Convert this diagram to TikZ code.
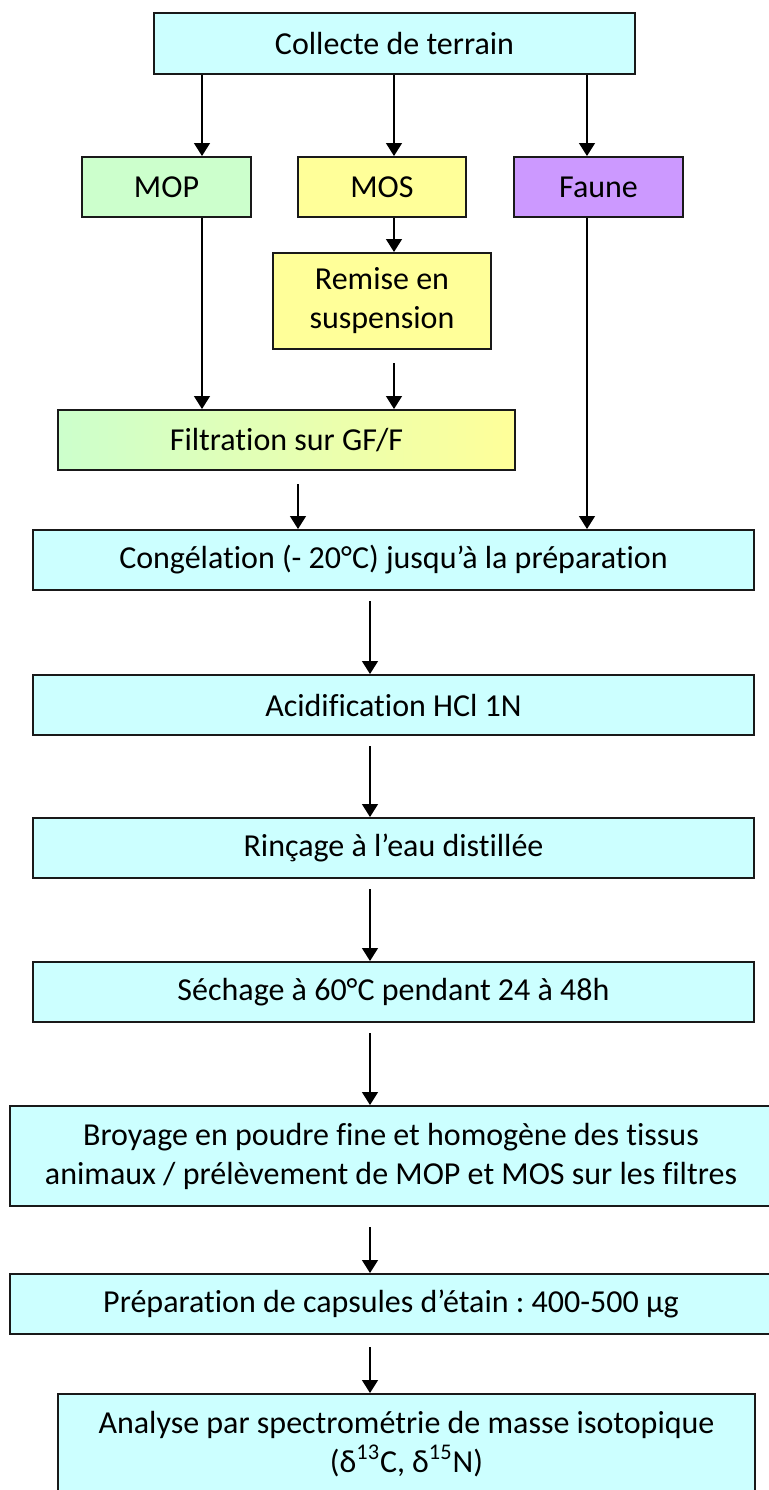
\documentclass[tikz,border=0pt]{standalone}
\usepackage{fontspec}
\setmainfont{Carlito}[Ligatures=NoCommon]
\frenchspacing
\usetikzlibrary{arrows.meta}
\tikzset{>={Triangle[length=6.5pt,width=8pt]}}
\usepackage{xcolor}
\definecolor{stepcol}{HTML}{CCFFFF}
\definecolor{mopcol}{HTML}{CCFFCC}
\definecolor{moscol}{HTML}{FFFF99}
\definecolor{faunecol}{HTML}{CC99FF}
\tikzstyle{stage}=[draw=black!90,line width=1pt,align=center,inner sep=0pt,
                   font=\fontsize{16}{19.5}\selectfont]
\tikzstyle{flow}=[->,line width=0.7pt]
\tikzset{
  boxsize/.style 2 args={minimum width=#1*0.5pt,minimum height=#2*0.5pt},
  gap/.style={shorten <=#1*0.5pt},
  gap/.default=10}

\begin{document}
\begin{tikzpicture}[x=0.5pt,y=-0.5pt]
  \useasboundingbox (0,0) rectangle (768,1490);

  % TOP
  \node[stage,fill=stepcol,boxsize={481}{61}] (collecte) at (394.5,43.5) {Collecte de terrain};

  % SAMPLE TYPES
  \node[stage,fill=mopcol,boxsize={169}{60}]    (mop)    at (166.5,187) {MOP};
  \node[stage,fill=moscol,boxsize={168}{60}]    (mos)    at (382,187)   {MOS};
  \node[stage,fill=faunecol,boxsize={169}{60}]  (faune)  at (598.5,187) {Faune};
  \node[stage,fill=moscol,boxsize={218}{96}]    (remise) at (382,301)   {Remise en\\suspension};
  \node[stage,left color=mopcol,right color=moscol,boxsize={457}{60}] (filtre) at (286.5,440) {Filtration sur GF/F};

  % MAIN STEPS
  \node[stage,fill=stepcol,boxsize={721}{60}]  (congel)  at (393.5,560)  {Congélation (- 20°C) jusqu’à la préparation};
  \node[stage,fill=stepcol,boxsize={721}{60}]  (acide)   at (393.5,705)  {Acidification HCl 1N};
  \node[stage,fill=stepcol,boxsize={721}{60}]  (rincage) at (393.5,848)  {Rinçage à l’eau distillée};
  \node[stage,fill=stepcol,boxsize={721}{60}]  (sechage) at (393.5,992)  {Séchage à 60°C pendant 24 à 48h};
  \node[stage,fill=stepcol,boxsize={762}{100}] (broyage) at (391,1156)   {Broyage en poudre fine et homogène des tissus\\animaux / prélèvement de MOP et MOS sur les filtres};
  \node[stage,fill=stepcol,boxsize={762}{60}]  (prepa)   at (391,1304)   {Préparation de capsules d’étain : 400-500 µg};
  \node[stage,fill=stepcol,boxsize={697}{100}] (analyse) at (406.5,1444)  {Analyse par spectrométrie de masse isotopique\\(δ\textsuperscript{13}C, δ\textsuperscript{15}N)};

  % ARROW COLUMNS
  \coordinate (cA) at (202,0);
  \coordinate (cB) at (394,0);
  \coordinate (cC) at (587,0);
  \coordinate (cD) at (298,0);
  \coordinate (cM) at (370,0);

  % ARROWS
  \draw[flow] (collecte.south -| cA) -- (mop.north -| cA);
  \draw[flow] (collecte.south -| cB) -- (mos.north -| cB);
  \draw[flow] (collecte.south -| cC) -- (faune.north -| cC);
  \draw[flow] (mos.south -| cB) -- (remise.north -| cB);
  \draw[flow] (mop.south -| cA) -- (filtre.north -| cA);
  \draw[flow,gap=13] (remise.south -| cB) -- (filtre.north -| cB);
  \draw[flow,gap=13] (filtre.south -| cD) -- (congel.north -| cD);
  \draw[flow] (faune.south -| cC) -- (congel.north -| cC);
  \draw[flow,gap] (congel.south -| cM) -- (acide.north -| cM);
  \draw[flow,gap] (acide.south -| cM) -- (rincage.north -| cM);
  \draw[flow,gap] (rincage.south -| cM) -- (sechage.north -| cM);
  \draw[flow,gap] (sechage.south -| cM) -- (broyage.north -| cM);
  \draw[flow,gap=20] (broyage.south -| cM) -- (prepa.north -| cM);
  \draw[flow,gap=12] (prepa.south -| cM) -- (analyse.north -| cM);

\end{tikzpicture}
\end{document}
